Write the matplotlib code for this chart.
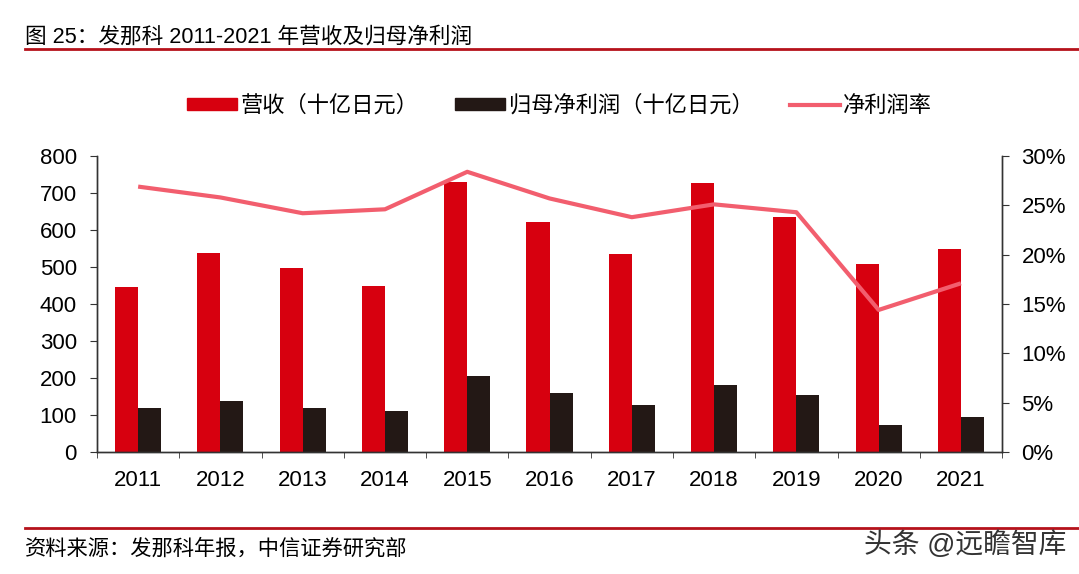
import numpy as np
import matplotlib.pyplot as plt
from matplotlib.patches import Patch
from matplotlib.lines import Line2D
from matplotlib.ticker import FixedLocator, PercentFormatter

plt.rcParams['font.family'] = ['Liberation Sans', 'Noto Sans CJK SC', 'DejaVu Sans']

years = ['2011', '2012', '2013', '2014', '2015', '2016',
         '2017', '2018', '2019', '2020', '2021']
revenue = [445, 537, 498, 450, 729, 622, 536, 726, 634, 507, 550]
net_profit = [119, 139, 119, 110, 206, 159, 127, 181, 153, 72, 94]
margin = [26.9, 25.8, 24.2, 24.6, 28.4, 25.7, 23.8, 25.1, 24.3, 14.4, 17.1]

red = '#D7000F'
dark = '#231815'
pink = '#F25E6E'

fig = plt.figure(figsize=(10.79, 5.74), dpi=100)
ax = fig.add_axes([0.0899, 0.2125, 0.8388, 0.5157])
ax2 = ax.twinx()

x = np.arange(len(years))
w = 0.28
ax.bar(x - w / 2, revenue, w, color=red, zorder=2)
ax.bar(x + w / 2, net_profit, w, color=dark, zorder=2)
ax2.plot(x, margin, color=pink, lw=3, solid_capstyle='butt')

ax.set_xlim(-0.5, len(years) - 0.5)
ax.set_ylim(0, 800)
ax.set_yticks(range(0, 801, 100))
ax2.set_ylim(0, 30)
ax2.set_yticks(range(0, 31, 5))
ax2.yaxis.set_major_formatter(PercentFormatter(decimals=0))

ax.set_xticks(x)
ax.set_xticklabels(years)
ax.xaxis.set_minor_locator(FixedLocator(np.arange(-0.5, len(years), 1.0)))
ax.tick_params(axis='x', which='major', length=0, pad=13, labelsize=16)
ax.tick_params(axis='x', which='minor', length=4, direction='out', color='#333333')
ax.tick_params(axis='y', length=5, pad=9.5, labelsize=16, color='#333333')
ax2.tick_params(axis='y', length=5, pad=9, labelsize=16, color='#333333')

for a in (ax, ax2):
    a.spines['top'].set_visible(False)
    for s in ('left', 'right', 'bottom'):
        a.spines[s].set_color('#333333')
        a.spines[s].set_linewidth(1)

handles = [Patch(color=red), Patch(color=dark),
           Line2D([], [], color=pink, lw=3)]
labels = ['营收（十亿日元）', '归母净利润（十亿日元）', '净利润率']
fig.legend(handles, labels, loc='center left', bbox_to_anchor=(0.155, 0.815),
           ncol=3, frameon=False, fontsize=16, handlelength=2.25,
           handleheight=0.5, handletextpad=0.15, columnspacing=1.65)

fig.text(0.023, 0.935, '图 25：发那科 2011-2021 年营收及归母净利润',
         fontsize=15.6, va='center')
fig.add_artist(Line2D([0.023, 1.0], [0.915, 0.915], color='#B5121B', lw=2))
fig.add_artist(Line2D([0.023, 1.0], [0.08, 0.08], color='#B5121B', lw=2))
fig.text(0.023, 0.045, '资料来源：发那科年报，中信证券研究部',
         fontsize=15.3, va='center')
fig.text(0.988, 0.05, '头条 @远瞻智库', fontsize=20, va='center',
         ha='right', color='#333333')

fig.savefig('out.png', dpi=100)
